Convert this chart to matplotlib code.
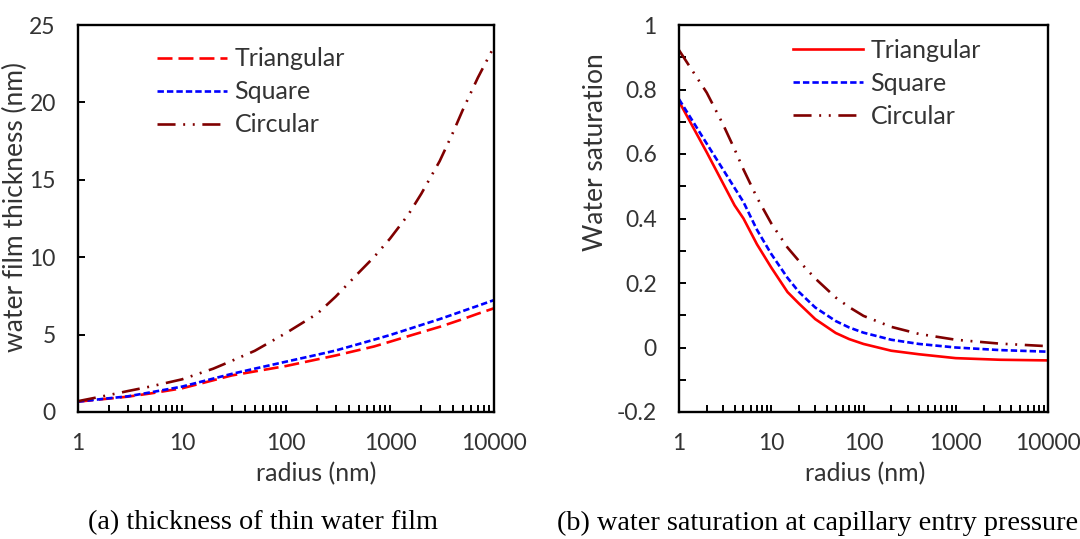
import numpy as np
import matplotlib
matplotlib.use("Agg")
import matplotlib.pyplot as plt
from matplotlib.ticker import LogLocator, NullFormatter, FixedLocator, FuncFormatter

plt.rcParams['font.family'] = ['Lato', 'DejaVu Sans']
plt.rcParams['lines.scale_dashes'] = False

# (a) thin water film thickness (nm) versus pore radius (nm)
radius_a = [1, 2, 3, 5, 10, 20, 30, 50, 100, 200, 300, 500, 700, 1000, 1500, 2000,
            3000, 4000, 5000, 7000, 10000]
thick_tri = [0.67, 0.87, 0.99, 1.2, 1.53, 2.05, 2.36, 2.62, 2.97, 3.4, 3.65, 4.0, 4.23, 4.54,
             4.9, 5.15, 5.5, 5.78, 6.0, 6.35, 6.7]
thick_sq = [0.67, 0.89, 1.01, 1.27, 1.64, 2.16, 2.46, 2.8, 3.25, 3.7, 3.97, 4.39, 4.67, 4.97,
            5.35, 5.62, 6.0, 6.29, 6.52, 6.86, 7.23]
thick_circ = [0.7, 1.1, 1.35, 1.65, 2.11, 2.8, 3.3, 3.95, 5.1, 6.35, 7.45, 9.0, 10.0, 11.2,
              12.75, 14.1, 16.2, 18.0, 19.5, 21.6, 23.6]

# (b) water saturation at capillary entry pressure versus pore radius (nm)
radius_b = [1, 2, 3, 4, 5, 7, 10, 15, 20, 30, 50, 70, 100, 200, 400, 1000, 3000, 10000]
sat_tri = [0.763, 0.605, 0.509, 0.441, 0.40, 0.32, 0.248, 0.172, 0.136, 0.088, 0.045, 0.026,
           0.011, -0.010, -0.021, -0.033, -0.038, -0.040]
sat_sq = [0.77, 0.632, 0.552, 0.495, 0.451, 0.365, 0.29, 0.216, 0.172, 0.124, 0.082, 0.062,
          0.046, 0.024, 0.011, 0.0, -0.008, -0.013]
sat_circ = [0.922, 0.79, 0.692, 0.615, 0.552, 0.465, 0.385, 0.31, 0.268, 0.214, 0.155, 0.125,
            0.098, 0.064, 0.042, 0.024, 0.012, 0.004]

series_names = ["Triangular", "Square", "Circular"]
colors = ["#FF0000", "#0000FF", "#800000"]
text_color = '#333333'

W, H = 1080, 539
fig = plt.figure(figsize=(W / 100, H / 100), dpi=100)


def px_axes(l, t, r, b):
    return fig.add_axes([l / W, 1 - b / H, (r - l) / W, (b - t) / H])


lw = 1.9
dash_long = (0, (10.8, 4.3))
dash_short = (0, (4.6, 2.2))
dash_dotdot = (0, (13, 5.5, 1.4, 5.5, 1.4, 5.5))
dash_solid = '-'
FS = 18
TICK_FS = 16.5


def style_axes(ax, ylim, ymajor, yminor, yfmt):
    ax.set_xscale('log')
    ax.set_xlim(1, 10000)
    ax.set_ylim(*ylim)
    ax.xaxis.set_major_locator(LogLocator(base=10, numticks=10))
    ax.xaxis.set_minor_locator(LogLocator(base=10, subs=np.arange(2, 10), numticks=10))
    ax.xaxis.set_minor_formatter(NullFormatter())
    ax.xaxis.set_major_formatter(FuncFormatter(lambda v, p: f"{v:.0f}"))
    ax.yaxis.set_major_locator(FixedLocator(ymajor))
    if yminor is not None:
        ax.yaxis.set_minor_locator(FixedLocator(yminor))
    ax.yaxis.set_major_formatter(FuncFormatter(yfmt))
    ax.tick_params(which='both', direction='in', length=5, width=1.4, colors='black',
                   labelsize=TICK_FS, labelcolor=text_color)
    ax.tick_params(axis='x', which='major', pad=15)
    ax.tick_params(axis='y', which='major', pad=16)
    for s in ax.spines.values():
        s.set_linewidth(1.7)
        s.set_color('black')


def add_legend(ax, handles, x0, y0):
    ax.legend(handles, series_names, loc='upper left', bbox_to_anchor=(x0, y0),
              frameon=False, fontsize=FS, handlelength=2.8, handletextpad=0.3,
              labelspacing=0.4, borderpad=0, borderaxespad=0, labelcolor=text_color)


# ---- (a) thickness ----
ax1 = px_axes(78, 25, 494, 412)
l1, = ax1.plot(radius_a, thick_tri, color=colors[0], lw=lw, linestyle=dash_long)
l2, = ax1.plot(radius_a, thick_sq, color=colors[1], lw=lw, linestyle=dash_short)
l3, = ax1.plot(radius_a, thick_circ, color=colors[2], lw=lw, linestyle=dash_dotdot)
style_axes(ax1, (0, 25), [0, 5, 10, 15, 20, 25], None, lambda v, p: f"{v:.0f}")
ax1.set_ylabel("water film thickness (nm)", fontsize=FS + 1, color=text_color)
ax1.yaxis.set_label_coords(-0.12, 0.53)
ax1.set_xlabel("radius (nm)", fontsize=FS, color=text_color)
ax1.xaxis.set_label_coords(0.572, -0.13)
add_legend(ax1, [l1, l2, l3], 0.19, 0.942)

# ---- (b) saturation ----
ax2 = px_axes(679, 25, 1048, 412)
m1, = ax2.plot(radius_b, sat_tri, color=colors[0], lw=lw, linestyle=dash_solid)
m2, = ax2.plot(radius_b, sat_sq, color=colors[1], lw=lw, linestyle=dash_short)
m3, = ax2.plot(radius_b, sat_circ, color=colors[2], lw=lw, linestyle=dash_dotdot)


def sat_fmt(v, p):
    if abs(v) < 1e-9:
        return "0"
    if abs(v - 1) < 1e-9:
        return "1"
    return f"{v:.1f}"


style_axes(ax2, (-0.2, 1.0), [-0.2, 0, 0.2, 0.4, 0.6, 0.8, 1.0],
           [-0.1, 0.1, 0.3, 0.5, 0.7, 0.9], sat_fmt)
ax2.set_ylabel("Water saturation", fontsize=FS + 1, color=text_color)
ax2.yaxis.set_label_coords(-0.192, 0.671)
ax2.set_xlabel("radius (nm)", fontsize=FS, color=text_color)
ax2.xaxis.set_label_coords(0.505, -0.13)
add_legend(ax2, [m1, m2, m3], 0.309, 0.964)

# captions
fig.text(263 / W, 1 - 523 / H, "(a) thickness of thin water film", ha='center', va='center',
         fontsize=20.3, family='Liberation Serif')
fig.text(818 / W, 1 - 523 / H, "(b) water saturation at capillary entry pressure",
         ha='center', va='center', fontsize=20.3, family='Liberation Serif')

fig.savefig("out.png", dpi=100)
